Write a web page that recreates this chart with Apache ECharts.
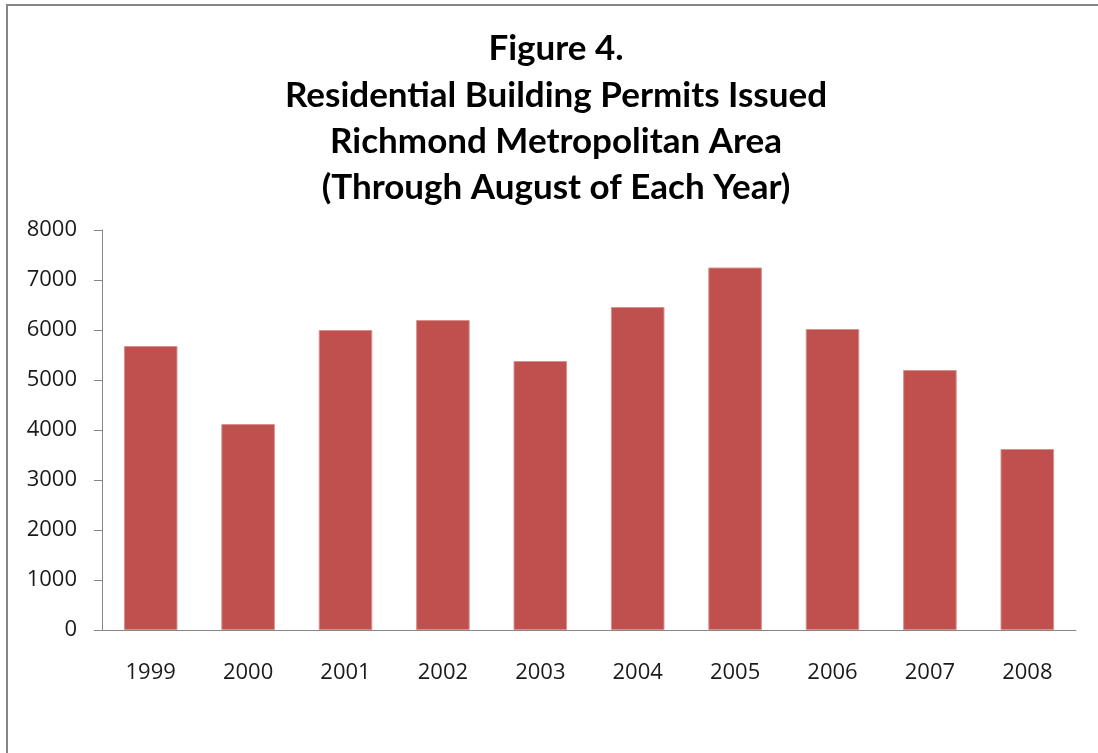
<!DOCTYPE html>
<html>
<head>
<meta charset="utf-8">
<title>Figure 4</title>
<script src="https://cdn.jsdelivr.net/npm/echarts@6/dist/echarts.min.js"></script>
<style>
  html, body { margin: 0; padding: 0; background: #fff; }
  #main { width: 1098px; height: 753px; }
</style>
</head>
<body>
<div id="main"></div>
<script>
// data
var years = ['1999', '2000', '2001', '2002', '2003', '2004', '2005', '2006', '2007', '2008'];
var permits = [5680, 4120, 6000, 6200, 5380, 6460, 7250, 6020, 5200, 3620];
var titleLines = [
    'Figure 4.',
    'Residential Building Permits Issued',
    'Richmond Metropolitan Area',
    '(Through August of Each Year)'
];

function createOption(){
    var axisGray = '#868686';
    var option = {
        backgroundColor: '#fff',
        animation: false,
        title: {
            text: titleLines.join('\n'),
            left: 551,
            textAlign: 'center',
            top: 21,
            textStyle: {
                fontFamily: 'Lato',
                fontWeight: 'bold',
                fontSize: 35,
                lineHeight: 46.3,
                color: '#000'
            }
        },
        grid: {
            left: 102,
            right: 22,
            top: 230,
            bottom: 123
        },
        xAxis: {
            type: 'category',
            data: years,
            axisLine: { lineStyle: { color: axisGray, width: 1 } },
            axisTick: { length: 8, lineStyle: { color: axisGray } },
            axisLabel: {
                margin: 32,
                fontFamily: 'Open Sans',
                fontSize: 22,
                color: '#1a1a1a'
            }
        },
        yAxis: {
            type: 'value',
            min: 0,
            max: 8000,
            interval: 1000,
            splitLine: { show: false },
            axisLine: { show: true, lineStyle: { color: axisGray, width: 1 } },
            axisTick: { show: true, length: 8, lineStyle: { color: axisGray } },
            axisLabel: {
                margin: 25,
                fontFamily: 'Open Sans',
                fontSize: 22,
                color: '#1a1a1a',
                formatter: function (v) { return String(v); }
            }
        },
        series: [
            {
                name: 'Permits',
                type: 'bar',
                data: permits,
                barWidth: '55%',
                itemStyle: {
                    color: '#c0504d',
                    borderColor: '#d7918f',
                    borderWidth: 1
                }
            }
        ],
        // outer frame of the chart area (left and top edges only)
        graphic: [
            { type: 'line', shape: { x1: 7, y1: 4, x2: 7, y2: 753 }, style: { stroke: axisGray, lineWidth: 2 } },
            { type: 'line', shape: { x1: 6, y1: 5, x2: 1098, y2: 5 }, style: { stroke: axisGray, lineWidth: 2 } }
        ]
    };
    return option;
}

function initChart(){
    var myChart = echarts.init(document.getElementById('main'));
    myChart.setOption(createOption());
}

initChart();
</script>
</body>
</html>
